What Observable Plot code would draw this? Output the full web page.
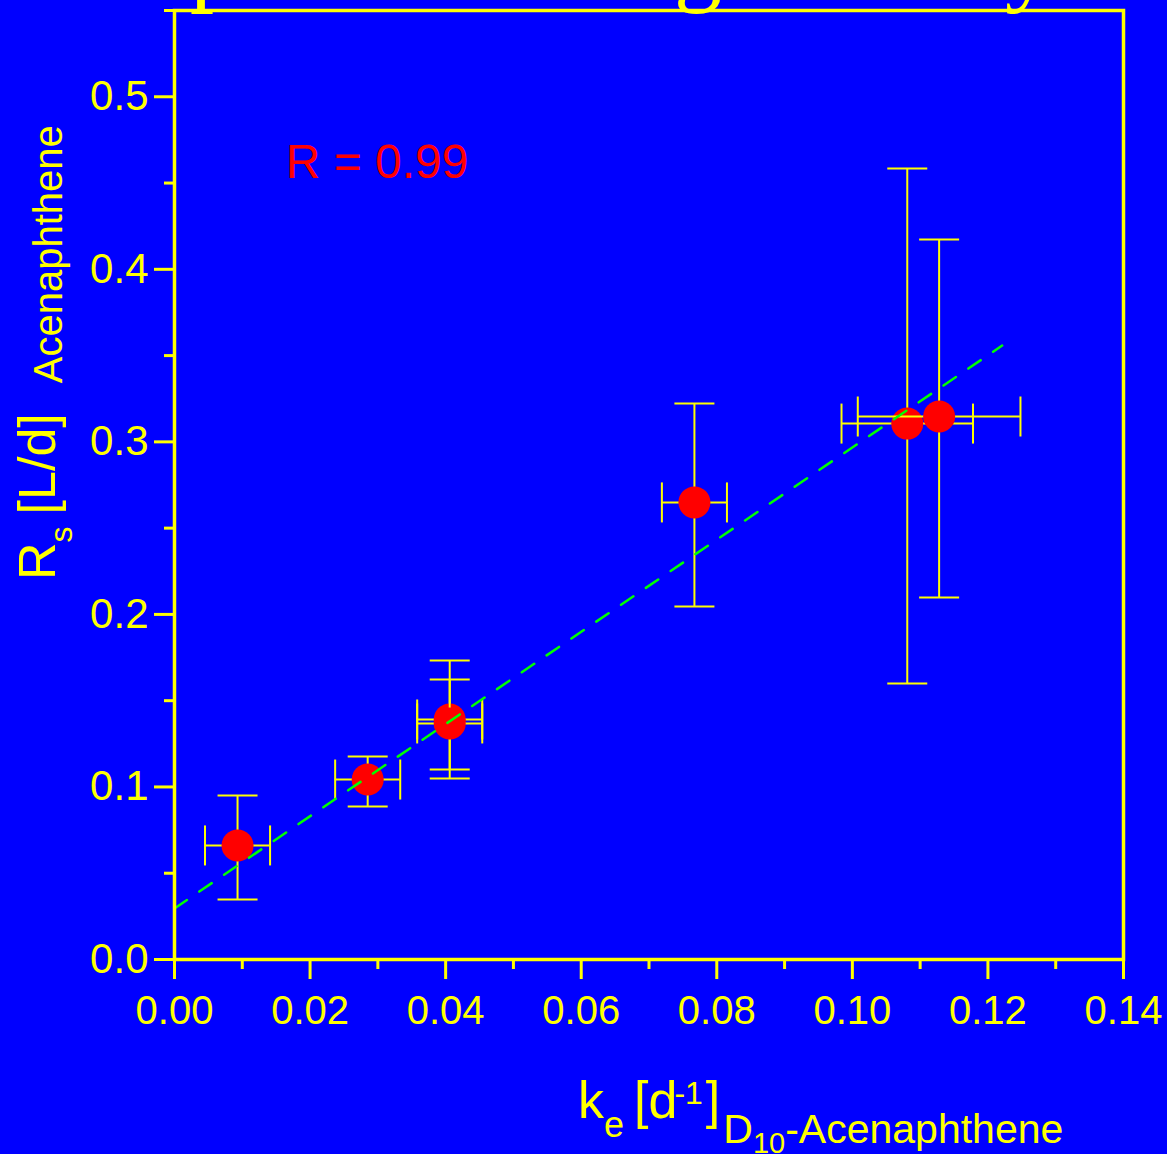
<!DOCTYPE html>
<html>
<head>
<meta charset="utf-8">
<script src="https://cdn.jsdelivr.net/npm/d3@7"></script>
<script src="https://cdn.jsdelivr.net/npm/@observablehq/plot@0.6"></script>
<style>
  html, body { margin: 0; padding: 0; background: #0000FF; overflow: hidden; }
  #chart svg { display: block; }
</style>
</head>
<body>
<div id="chart"></div>
<script>
// ---- data ----
const ke      = [0.0093, 0.0285, 0.0406, 0.0406, 0.0767, 0.1081, 0.1128];   // k_e [1/d]
const keErr   = [0.0048, 0.0048, 0.0048, 0.0048, 0.0048, 0.0097, 0.0120];
const rs      = [0.0661, 0.1043, 0.1391, 0.1368, 0.2649, 0.3106, 0.3147];   // R_s [L/d]
const rsLow   = [0.0348, 0.0887, 0.1049, 0.1101, 0.2046, 0.1600, 0.2098];
const rsHigh  = [0.0950, 0.1176, 0.1733, 0.1623, 0.3222, 0.4584, 0.4173];
const fitX    = [0, 0.1221];
const fitY    = [0.0296, 0.3558];
const xTicks  = [0, 0.02, 0.04, 0.06, 0.08, 0.10, 0.12, 0.14];
const xMinor  = [0.01, 0.03, 0.05, 0.07, 0.09, 0.11, 0.13];
const yTicks  = [0, 0.1, 0.2, 0.3, 0.4, 0.5];
const yMinor  = [0.05, 0.15, 0.25, 0.35, 0.45, 0.55];
const rLabel  = "R = 0.99";
const rLabelPos = {x: 0.0164, y: 0.4532};

const YEL = "#FFFF00", RED = "#FF0000", GRN = "#00FF00";

const pts = ke.map((x, i) => ({
  i, x, y: rs[i], xlo: x - keErr[i], xhi: x + keErr[i], lo: rsLow[i], hi: rsHigh[i]
}));
const fit = fitX.map((x, i) => ({x, y: fitY[i]}));

// error-bar caps as fixed-pixel symbols
const hCap = {draw(ctx) { ctx.moveTo(-20, 0); ctx.lineTo(20, 0); }};
const vCap = {draw(ctx) { ctx.moveTo(0, -20); ctx.lineTo(0, 20); }};

const pointMarks = pts.flatMap(p => {
  const f = d => d.i === p.i;
  const s = {stroke: YEL, strokeWidth: 2};
  return [
    Plot.ruleX(pts, {filter: f, x: "x", y1: "lo", y2: "hi", ...s}),
    Plot.ruleY(pts, {filter: f, y: "y", x1: "xlo", x2: "xhi", ...s}),
    Plot.dot(pts, {filter: f, x: "x", y: "hi", symbol: hCap, fill: "none", ...s}),
    Plot.dot(pts, {filter: f, x: "x", y: "lo", symbol: hCap, fill: "none", ...s}),
    Plot.dot(pts, {filter: f, x: "xlo", y: "y", symbol: vCap, fill: "none", ...s}),
    Plot.dot(pts, {filter: f, x: "xhi", y: "y", symbol: vCap, fill: "none", ...s}),
    Plot.dot(pts, {filter: f, x: "x", y: "y", r: 16, fill: RED, stroke: "none"})
  ];
});

const svg = Plot.plot({
  width: 1167,
  height: 1154,
  marginLeft: 174,
  marginRight: 44,
  marginTop: 10,
  marginBottom: 195,
  style: {background: "#0000FF", color: YEL, fontFamily: "Arial, 'Liberation Sans', sans-serif", fontSize: "40px"},
  x: {domain: [0, 0.14], label: null},
  y: {domain: [0, 0.55], label: null},
  marks: [
    ...pointMarks,
    Plot.line(fit, {x: "x", y: "y", stroke: GRN, strokeWidth: 2.5, strokeDasharray: "15,15"}),
    Plot.text([rLabel], {x: () => rLabelPos.x, y: () => rLabelPos.y, text: d => d,
      fill: RED, fontSize: 48, textAnchor: "start", lineAnchor: "bottom",
      fontFamily: "Arial, 'Liberation Sans', sans-serif"}),
    Plot.axisX(xTicks, {tickSize: 20, tickPadding: 16, strokeWidth: 3, tickFormat: d3.format(".2f"), fontSize: 40, label: null}),
    Plot.axisX(xMinor, {tickSize: 10, strokeWidth: 3, tickFormat: () => "", label: null}),
    Plot.axisY(yTicks, {tickSize: 20, tickPadding: 6, strokeWidth: 3, tickFormat: d3.format(".1f"), fontSize: 42, label: null}),
    Plot.axisY(yMinor, {tickSize: 10, strokeWidth: 3, tickFormat: () => "", label: null}),
    Plot.frame({stroke: YEL, strokeWidth: 3.5})
  ]
});

document.getElementById("chart").appendChild(svg);

// ---- axis titles (rich text with sub/superscripts) ----
const root = d3.select(svg);
const FF = "Arial, 'Liberation Sans', sans-serif";

// x title
const xt = root.append("text").attr("x", 578).attr("y", 1118)
  .attr("text-anchor", "start")
  .attr("fill", YEL).attr("font-family", FF);
xt.append("tspan").attr("font-size", 52).text("k");
xt.append("tspan").attr("font-size", 36).attr("dy", 19).text("e");
xt.append("tspan").attr("font-size", 52).attr("dy", -19).attr("dx", 10).text("[d");
xt.append("tspan").attr("font-size", 32).attr("dy", -14).attr("dx", -3).text("-1");
xt.append("tspan").attr("font-size", 52).attr("dy", 14).attr("dx", 3).text("]");
xt.append("tspan").attr("font-size", 41).attr("dy", 25).attr("dx", 3).text("D");
xt.append("tspan").attr("font-size", 29).attr("dy", 10).text("10");
xt.append("tspan").attr("font-size", 41).attr("dy", -10).text("-Acenaphthene");

// y title (rotated)
const yt = root.append("text").attr("transform", "translate(55,580) rotate(-90)")
  .attr("text-anchor", "start")
  .attr("fill", YEL).attr("font-family", FF);
yt.append("tspan").attr("font-size", 52).text("R");
yt.append("tspan").attr("font-size", 32).attr("dy", 17).text("s");
yt.append("tspan").attr("font-size", 52).attr("dy", -17).attr("dx", 12).text("[L/d]");
yt.append("tspan").attr("font-size", 40).attr("dy", 7).attr("dx", 30).text("Acenaphthene");

// clipped remains of the large title above the chart
const titleBits = [{t: "p", x: 190}, {t: "g", x: 674}, {t: "y", x: 1005}];
root.selectAll("text.ttl").data(titleBits).join("text")
  .attr("class", "ttl")
  .attr("x", d => d.x).attr("y", -6)
  .attr("text-anchor", "start")
  .attr("fill", YEL)
  .attr("font-family", "'Liberation Serif', 'Times New Roman', serif")
  .attr("font-size", 96)
  .text(d => d.t);
</script>
</body>
</html>
